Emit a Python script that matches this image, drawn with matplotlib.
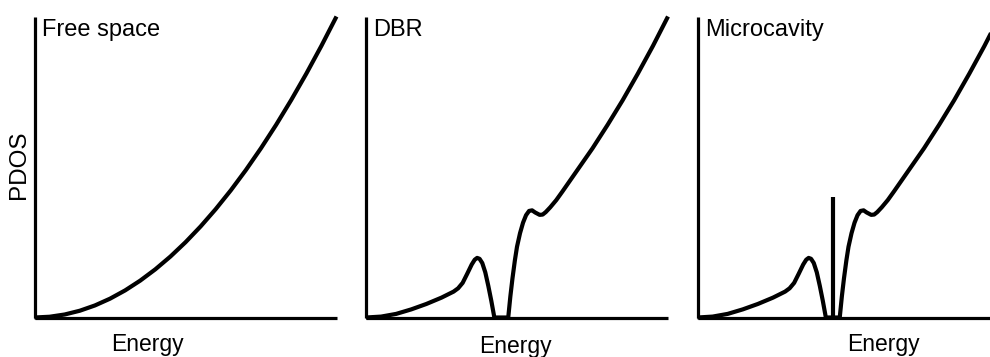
import matplotlib
matplotlib.use('Agg')
import matplotlib.pyplot as plt

plt.rcParams['font.family'] = ['Liberation Sans', 'DejaVu Sans']

# curves (energy and PDOS as fractions of the axes)
free_x = [0.0, 0.05, 0.10, 0.15, 0.20, 0.25, 0.30, 0.35, 0.40, 0.45, 0.50,
          0.55, 0.60, 0.65, 0.70, 0.75, 0.80, 0.85, 0.90, 0.95, 1.0]
free_y = [0.0, 0.0025, 0.01, 0.0225, 0.04, 0.0625, 0.09, 0.1225, 0.16,
          0.2025, 0.25, 0.3025, 0.36, 0.4225, 0.49, 0.5625, 0.64, 0.7225,
          0.81, 0.9025, 1.0]

dbr_x = [0.0, 0.05, 0.10, 0.15, 0.20, 0.25, 0.29, 0.305, 0.32, 0.335, 0.35,
         0.36, 0.368, 0.376, 0.385, 0.395, 0.405, 0.415, 0.425,
         0.471, 0.478, 0.485, 0.493, 0.50, 0.51, 0.52, 0.53, 0.54, 0.55,
         0.56, 0.575, 0.585, 0.595, 0.61, 0.63, 0.65, 0.675, 0.70, 0.75,
         0.80, 0.85, 0.90, 0.95, 1.0]
dbr_y = [0.0, 0.003, 0.012, 0.027, 0.045, 0.066, 0.086, 0.097, 0.115,
         0.145, 0.176, 0.192, 0.198, 0.195, 0.181, 0.150, 0.105, 0.055, 0.0,
         0.0, 0.07, 0.13, 0.19, 0.235, 0.28, 0.315, 0.34, 0.354, 0.356,
         0.349, 0.341, 0.342, 0.350, 0.366, 0.39, 0.418, 0.454, 0.49, 0.562,
         0.64, 0.722, 0.81, 0.902, 1.0]

# cavity mode inside the stop band
mode_x = 0.450
mode_height = 0.401

titles = ['Free space', 'DBR', 'Microcavity']
energy_label_x = [147, 515, 883]
energy_label_y = [350.5, 353.5, 350.5]

fig = plt.figure(figsize=(9.9, 3.57), dpi=100)
W, H = 990.0, 357.0

lefts = [34.5, 366.0, 697.5]
axes = []
for left in lefts:
    ax = fig.add_axes([left / W, (H - 317.5) / H, 302 / W, 301 / H])
    ax.set_xlim(0, 1)
    ax.set_ylim(0, 1)
    for side in ['top', 'right']:
        ax.spines[side].set_visible(False)
    for side in ['left', 'bottom']:
        ax.spines[side].set_linewidth(2.3)
        ax.spines[side].set_capstyle('butt')
    ax.set_xticks([])
    ax.set_yticks([])
    ax.patch.set_visible(False)
    axes.append(ax)

line_kw = dict(color='black', lw=3.0, solid_joinstyle='round',
               solid_capstyle='butt', clip_on=False)
axes[0].plot(free_x, free_y, **line_kw)
axes[1].plot(dbr_x, dbr_y, **line_kw)
axes[2].plot(dbr_x, dbr_y, **line_kw)
axes[2].vlines(mode_x, 0, mode_height, color='black', lw=3.0,
               capstyle='butt')

for ax, title in zip(axes, titles):
    ax.text(0.024, 0.935, title, transform=ax.transAxes, fontsize=17,
            ha='left', va='baseline')

for x, y in zip(energy_label_x, energy_label_y):
    fig.text(x / W, (H - y) / H, 'Energy', fontsize=16.5, ha='center',
             va='baseline')

fig.text(19 / W, (H - 165) / H, 'PDOS', fontsize=17.5, rotation=90,
         ha='center', va='center')

fig.savefig('out.png', dpi=100)
